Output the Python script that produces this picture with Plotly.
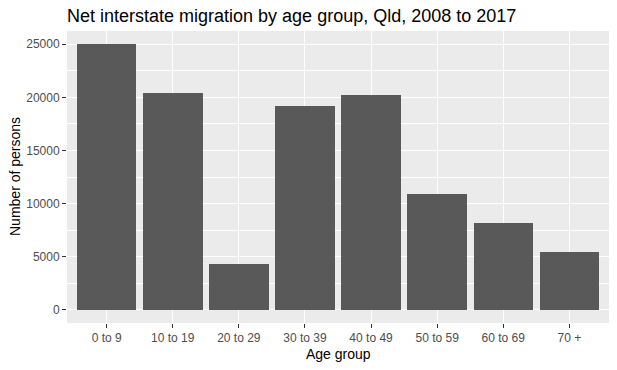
import plotly.graph_objects as go

age_groups = ["0 to 9", "10 to 19", "20 to 29", "30 to 39", "40 to 49", "50 to 59", "60 to 69", "70 +"]
net_migration = [25000, 20400, 4300, 19200, 20250, 10900, 8200, 5400]
y_ticks = [0, 5000, 10000, 15000, 20000, 25000]

W, H = 617, 370
ml, mr, mt, mb = 67, 8, 31, 47

FONT = "Liberation Sans, Arial, sans-serif"

fig = go.Figure(go.Bar(
    x=list(range(len(age_groups))), y=net_migration,
    width=0.9, marker=dict(color="#595959", line=dict(width=0)),
    hoverinfo="skip",
))

tick_font = dict(family=FONT, size=12, color="#4D4D4D")
title_font = dict(family=FONT, size=14, color="black")

fig.update_layout(
    width=W, height=H,
    margin=dict(l=ml, r=mr, t=mt, b=mb, pad=0, autoexpand=False),
    paper_bgcolor="white", plot_bgcolor="#EBEBEB",
    showlegend=False, bargap=0,
    title=dict(text="Net interstate migration by age group, Qld, 2008 to 2017",
               x=ml / W, xanchor="left", xref="container",
               y=1 - 16 / H, yanchor="middle", yref="container",
               automargin=False,
               font=dict(family=FONT, size=18, color="black")),
    xaxis=dict(range=[-0.6, len(age_groups) - 0.4], automargin=False,
               tickmode="array", tickvals=list(range(len(age_groups))), ticktext=age_groups,
               showgrid=True, gridcolor="white", gridwidth=1.1,
               ticks="outside", ticklen=4, tickcolor="#333333", tickwidth=1.1,
               tickfont=tick_font, zeroline=False, showline=False),
    yaxis=dict(range=[-1250, 26250], automargin=False,
               tickmode="array", tickvals=y_ticks, ticktext=[str(v) for v in y_ticks],
               showgrid=True, gridcolor="white", gridwidth=1.1,
               minor=dict(tickmode="array", tickvals=[2500, 7500, 12500, 17500, 22500],
                          showgrid=True, gridcolor="white", gridwidth=0.6, ticks=""),
               ticks="outside", ticklen=4, tickcolor="#333333", tickwidth=1.1,
               tickfont=tick_font, zeroline=False, showline=False),
    annotations=[
        dict(text="Age group", xref="paper", yref="paper", x=0.5, y=-(354 - (H - mb)) / (H - mt - mb),
             xanchor="center", yanchor="middle", showarrow=False, font=title_font),
        dict(text="Number of persons", xref="paper", yref="paper",
             x=-(ml - 15) / (W - ml - mr), y=0.5, textangle=-90,
             xanchor="center", yanchor="middle", showarrow=False, font=title_font),
    ],
)

fig.write_html("out.html", config={"displayModeBar": False},
               post_script="document.body.style.margin='0px';")
